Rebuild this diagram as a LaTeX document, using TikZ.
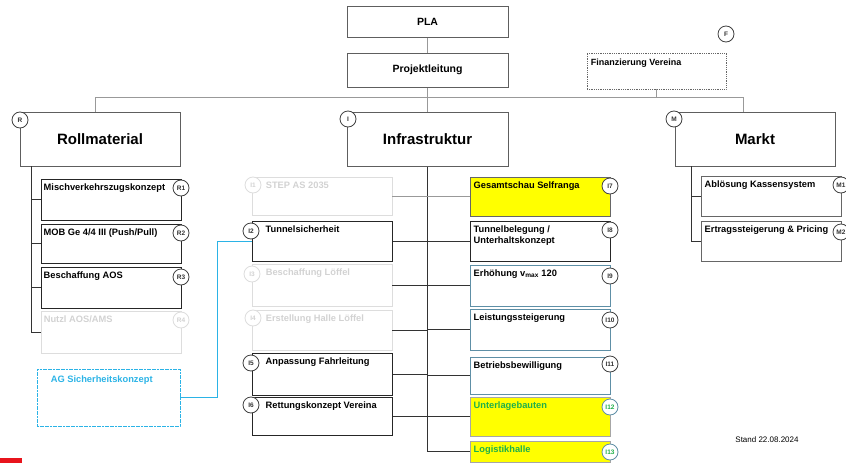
\documentclass[tikz,border=0pt]{standalone}
\usepackage{fontspec}
\setmainfont{Liberation Sans}
\usetikzlibrary{calc}
\definecolor{hdr}{HTML}{5E5E5E}
\definecolor{faded}{HTML}{DDDDDD}
\definecolor{fadedtext}{HTML}{D2D2D2}
\definecolor{tealc}{HTML}{5E8FA6}
\definecolor{cyanc}{HTML}{2BB3E6}
\definecolor{greent}{HTML}{1FB04A}
\definecolor{yel}{HTML}{FFFF00}
\definecolor{redbar}{HTML}{E8141C}
\tikzset{
  hbox/.style={draw=hdr, line width=1pt, fill=white},
  cbox/.style={draw=black!85, line width=1pt, fill=white, minimum width=140pt},
  fbox/.style={draw=faded, line width=0.8pt, minimum width=140pt},
  tbox/.style={draw=tealc, line width=1pt, fill=white, minimum width=140pt},
  ybox/.style={draw=black!60, fill=yel, line width=1pt, minimum width=140pt},
  ctext/.style={anchor=north west, inner sep=1pt, font=\bfseries\fontsize{9.3}{11}\selectfont, align=left},
  ftext/.style={ctext, text=fadedtext},
  gtext/.style={ctext, text=greent},
  htext/.style={font=\bfseries\fontsize{15}{15}\selectfont},
  circ/.style={circle, draw=black!75, fill=white, line width=0.8pt, minimum size=16pt, inner sep=0pt, font=\bfseries\fontsize{6.5}{6.5}\selectfont, text=black!80},
  fcirc/.style={circ, draw=faded, text=fadedtext},
  gcirc/.style={circ, draw=tealc, text=greent},
  conn/.style={draw=black!80, line width=0.8pt},
  gconn/.style={draw=black!40, line width=0.8pt},
}
\begin{document}
\begin{tikzpicture}[x=1pt, y=-1pt]
\useasboundingbox (0,0) rectangle (846,463);

% top
\node[hbox, minimum width=161pt, minimum height=31pt, font=\bfseries\fontsize{10.5}{11}\selectfont] (pla) at (427.5,21.5) {PLA};
\node[hbox, minimum width=161pt, minimum height=34pt, font=\bfseries\fontsize{10.5}{11}\selectfont] (proj) at (427.5,70) {Projektleitung};
\node[draw=black!60, densely dotted, line width=0.8pt, minimum width=139pt, minimum height=36pt] (fin) at (656.5,71) {};
\node[ctext, font=\bfseries\fontsize{9}{11}\selectfont] (fint) at ([shift={(3pt,-5pt)}]fin.north west) {Finanzierung Vereina};
\node[circ] (fc) at (726,34) {F};

% headers
\node[hbox, minimum width=160pt, minimum height=54pt, htext] (roll) at (100,139) {Rollmaterial};
\node[hbox, minimum width=161pt, minimum height=54pt, htext] (infra) at (427.5,139) {Infrastruktur};
\node[hbox, minimum width=160pt, minimum height=54pt, htext] (markt) at (755,139) {Markt};

% top connectors
\coordinate (hl) at (95,97);
\coordinate (hr) at (743,97);
\draw[gconn] (pla.south) -- (proj.north);
\draw[gconn] (proj.south) -- (infra.north);
\draw[gconn] (hl |- roll.north) -- (hl) -- (hr) -- (hr |- markt.north);
\draw[gconn] (fin.south) -- (fin.south |- hl);

\node[circ] (rc) at (20,120) {R};
\node[circ] (ic) at (348,119) {I};
\node[circ] (mc) at (674,119) {M};

% Rollmaterial children
\node[cbox, minimum height=41pt] (r1) at (111,199.5) {};
\node[cbox, minimum height=39pt] (r2) at (111,243.5) {};
\node[cbox, minimum height=41pt] (r3) at (111,287.5) {};
\node[fbox, minimum height=42pt] (r4) at (111,332) {};
\node[ctext] (r1t) at ([shift={(2pt,-4pt)}]r1.north west) {Mischverkehrszugskonzept};
\node[ctext] (r2t) at ([shift={(2pt,-4pt)}]r2.north west) {MOB Ge 4/4 III (Push/Pull)};
\node[ctext] (r3t) at ([shift={(2pt,-4pt)}]r3.north west) {Beschaffung AOS};
\node[ftext] (r4t) at ([shift={(2pt,-4pt)}]r4.north west) {Nutzl AOS/AMS};
\coordinate (rt) at (31,166);
\draw[conn] (rt) -- (rt |- r4.west) -- (r4.west);
\draw[conn] (rt |- r1.west) -- (r1.west);
\draw[conn] (rt |- r2.west) -- (r2.west);
\draw[conn] (rt |- r3.west) -- (r3.west);
\node[circ] (r1c) at (181,188) {R1};
\node[circ] (r2c) at (181,233) {R2};
\node[circ] (r3c) at (181,277) {R3};
\node[fcirc] (r4c) at (181,320) {R4};

% AG Sicherheitskonzept
\node[draw=cyanc, line width=0.8pt, dash pattern=on 2pt off 0.6pt, minimum width=143pt, minimum height=57pt] (ag) at (108.5,397.5) {};
\node[ctext, text=cyanc] (agt) at ([shift={(13pt,-6pt)}]ag.north west) {AG Sicherheitskonzept};

% Infrastruktur left children
\node[fbox, minimum height=38pt] (i1) at (322,196) {};
\node[cbox, minimum height=40pt] (i2) at (322,241) {};
\node[fbox, minimum height=42pt] (i3) at (322,285) {};
\node[fbox, minimum height=40pt] (i4) at (322,330) {};
\node[cbox, minimum height=42pt] (i5) at (322,374) {};
\node[cbox, minimum height=38pt] (i6) at (322,416) {};
\node[ftext] (i1t) at ([shift={(13pt,-4pt)}]i1.north west) {STEP AS 2035};
\node[ctext] (i2t) at ([shift={(13pt,-4pt)}]i2.north west) {Tunnelsicherheit};
\node[ftext] (i3t) at ([shift={(13pt,-4pt)}]i3.north west) {Beschaffung Löffel};
\node[ftext] (i4t) at ([shift={(13pt,-4pt)}]i4.north west) {Erstellung Halle Löffel};
\node[ctext] (i5t) at ([shift={(13pt,-4pt)}]i5.north west) {Anpassung Fahrleitung};
\node[ctext] (i6t) at ([shift={(13pt,-4pt)}]i6.north west) {Rettungskonzept Vereina};

% Infrastruktur right children
\node[ybox, minimum height=39pt] (i7) at (540,196.5) {};
\node[cbox, minimum height=40pt] (i8) at (540,241) {};
\node[tbox, minimum height=41pt] (i9) at (540,285.5) {};
\node[tbox, minimum height=41pt] (i10) at (540,329.5) {};
\node[tbox, minimum height=37pt] (i11) at (540,375.5) {};
\node[ybox, draw=black!35, minimum height=39pt] (i12) at (540,416.5) {};
\node[ybox, draw=black!35, minimum height=21pt] (i13) at (540,451.5) {};
\node[ctext] (i7t) at ([shift={(3pt,-4pt)}]i7.north west) {Gesamtschau Selfranga};
\node[ctext] (i8t) at ([shift={(3pt,-4pt)}]i8.north west) {Tunnelbelegung /\\Unterhaltskonzept};
\node[ctext] (i9t) at ([shift={(3pt,-4pt)}]i9.north west) {Erhöhung v\textsubscript{max} 120};
\node[ctext] (i10t) at ([shift={(3pt,-4pt)}]i10.north west) {Leistungssteigerung};
\node[ctext] (i11t) at ([shift={(3pt,-4pt)}]i11.north west) {Betriebsbewilligung};
\node[gtext] (i12t) at ([shift={(3pt,-4pt)}]i12.north west) {Unterlagebauten};
\node[gtext] (i13t) at ([shift={(3pt,-4pt)}]i13.north west) {Logistikhalle};

% Infrastruktur trunk and connectors
\draw[conn] (infra.south) -- (infra.south |- i13.west);
\draw[gconn] (i1.east) -- (i1.east -| infra.south);
\draw[conn] (i2.east) -- (i2.east -| infra.south);
\draw[conn] (i3.east) -- (i3.east -| infra.south);
\draw[conn] (i4.east) -- (i4.east -| infra.south);
\draw[conn] (i5.east) -- (i5.east -| infra.south);
\draw[conn] (i6.east) -- (i6.east -| infra.south);
\draw[gconn] (infra.south |- i7.west) -- (i7.west);
\draw[conn] (infra.south |- i8.west) -- (i8.west);
\draw[conn] (infra.south |- i9.west) -- (i9.west);
\draw[conn] (infra.south |- i10.west) -- (i10.west);
\draw[conn] (infra.south |- i11.west) -- (i11.west);
\draw[conn] (infra.south |- i12.west) -- (i12.west);
\draw[conn] (infra.south |- i13.west) -- (i13.west);

% AG connector
\coordinate (agk) at (217,241);
\draw[cyanc, line width=0.8pt] (ag.east) -| (agk) -- (i2.west);

% circles Infrastruktur
\node[fcirc] (i1c) at (253,185) {I1};
\node[circ] (i2c) at (251,231) {I2};
\node[fcirc] (i3c) at (252,274) {I3};
\node[fcirc] (i4c) at (253,318) {I4};
\node[circ] (i5c) at (251,363) {I5};
\node[circ] (i6c) at (251,405) {I6};
\node[circ] (i7c) at (610,186) {I7};
\node[circ] (i8c) at (610,230) {I8};
\node[circ] (i9c) at (610,276) {I9};
\node[circ] (i10c) at (610,320) {I10};
\node[circ] (i11c) at (610,364) {I11};
\node[gcirc] (i12c) at (610,407) {I12};
\node[gcirc] (i13c) at (610,452) {I13};

% Markt children
\node[cbox, draw=black!60, minimum height=40pt] (m1) at (771,196) {};
\node[cbox, draw=black!60, minimum height=40pt] (m2) at (771,241) {};
\node[ctext] (m1t) at ([shift={(3pt,-4pt)}]m1.north west) {Ablösung Kassensystem};
\node[ctext] (m2t) at ([shift={(3pt,-4pt)}]m2.north west) {Ertragssteigerung \& Pricing};
\coordinate (mt) at (691,166);
\draw[conn] (mt) -- (mt |- m2.west) -- (m2.west);
\draw[conn] (mt |- m1.west) -- (m1.west);
\node[circ] (m1c) at (841,185) {M1};
\node[circ] (m2c) at (841,232) {M2};

% footer
\node[font=\fontsize{8}{9}\selectfont] (stand) at (767,440) {Stand 22.08.2024};
\fill[redbar] (0,458) rectangle (22,463);
\end{tikzpicture}
\end{document}
